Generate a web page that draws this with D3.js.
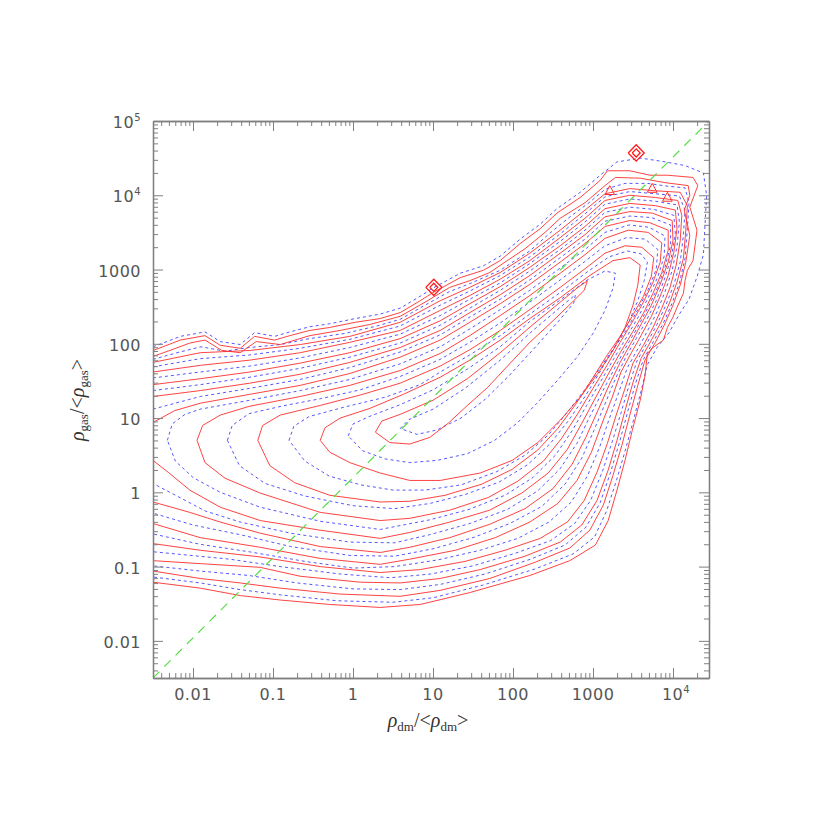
<!DOCTYPE html>
<html><head><meta charset="utf-8">
<script src="https://cdn.jsdelivr.net/npm/d3@7"></script>
<style>body{margin:0;background:#fff}</style>
</head><body>
<svg id="c" width="830" height="830"></svg>
<script>
// ---- data: contour paths as [log10(rho_dm/<rho_dm>), log10(rho_gas/<rho_gas>)] ----
const xDomain = [Math.pow(10,-2.5), Math.pow(10,4.45)];
const yDomain = [Math.pow(10,-2.5), 1e5];
const xTicks = [0.01,0.1,1,10,100,1000,1e4];
const xTickLabels = ["0.01","0.1","1","10","100","1000","10^4"];
const yTicks = [0.01,0.1,1,10,100,1000,1e4,1e5];
const yTickLabels = ["0.01","0.1","1","10","100","1000","10^4","10^5"];
const diagonalLine = [[-2.5,-2.5],[4.45,5]];

const redR1 = [[-2.5,1.91],[-2.35,1.97],[-2.16,2.05],[-1.85,2.11],[-1.66,1.98],[-1.41,1.94],[-1.23,2.10],[-0.98,2.05],[-0.79,2.11],[-0.54,2.18],[-0.29,2.22],[0.03,2.29],[0.34,2.34],[0.59,2.42],[0.84,2.58],[1.0,2.69],[1.34,2.89],[1.63,2.99],[1.84,3.12],[2.09,3.35],[2.34,3.55],[2.55,3.76],[2.84,3.97],[3.09,4.20],[3.18,4.33],[3.46,4.33],[3.71,4.27],[3.93,4.27],[4.25,4.24],[4.31,4.13],[4.21,3.84],[4.30,3.53],[4.25,3.12],[4.18,2.99],[4.15,2.85],[4.13,2.68],[4.05,2.49],[4.00,2.36],[3.93,2.22],[3.88,2.05],[3.75,1.95],[3.68,1.87],[3.65,1.57],[3.59,1.24],[3.49,0.83],[3.40,0.43],[3.30,0.03],[3.19,-0.38],[3.03,-0.71],[2.71,-0.92],[2.21,-1.12],[1.46,-1.35],[0.84,-1.51],[0.34,-1.55],[-0.29,-1.51],[-0.91,-1.45],[-1.41,-1.39],[-1.91,-1.29],[-2.5,-1.21]];
const redR2 = [[-2.5,1.83],[-2.29,1.91],[-2.04,2.01],[-1.85,2.05],[-1.64,1.91],[-1.41,1.88],[-1.21,2.03],[-0.91,1.99],[-0.54,2.11],[-0.16,2.18],[0.21,2.26],[0.59,2.37],[0.90,2.56],[1.21,2.76],[1.46,2.85],[1.71,2.96],[1.90,3.10],[2.15,3.28],[2.40,3.50],[2.59,3.69],[2.90,3.90],[3.15,4.13],[3.28,4.24],[3.59,4.23],[3.90,4.17],[4.19,4.13],[4.21,4.00],[4.14,3.80],[4.21,3.46],[4.16,3.10],[4.09,2.79],[4.00,2.52],[3.89,2.25],[3.78,2.02],[3.65,1.78],[3.56,1.44],[3.46,1.04],[3.36,0.63],[3.25,0.23],[3.13,-0.17],[2.96,-0.51],[2.71,-0.75],[2.28,-0.94],[1.71,-1.16],[1.09,-1.32],[0.59,-1.40],[-0.16,-1.37],[-0.91,-1.29],[-1.41,-1.22],[-1.91,-1.16],[-2.5,-1.06]];
const redR3 = [[-2.5,1.75],[-1.91,1.88],[-1.29,1.91],[-0.66,1.99],[-0.04,2.10],[0.59,2.29],[1.09,2.58],[1.46,2.76],[1.84,2.96],[2.21,3.22],[2.59,3.53],[2.90,3.80],[3.15,4.02],[3.46,4.09],[3.78,4.06],[4.09,4.04],[4.18,3.86],[4.16,3.53],[4.13,3.15],[4.05,2.83],[3.96,2.56],[3.85,2.29],[3.73,2.05],[3.60,1.80],[3.50,1.48],[3.40,1.10],[3.30,0.70],[3.19,0.30],[3.05,-0.11],[2.86,-0.44],[2.59,-0.67],[2.15,-0.86],[1.59,-1.04],[1.09,-1.16],[0.59,-1.22],[0.09,-1.21],[-0.66,-1.13],[-1.16,-1.01],[-1.91,-0.96],[-2.5,-0.92]];
const redR4 = [[-2.5,1.62],[-1.91,1.71],[-1.29,1.78],[-0.66,1.88],[-0.04,2.02],[0.59,2.18],[1.09,2.45],[1.46,2.65],[1.84,2.87],[2.21,3.12],[2.59,3.43],[2.90,3.69],[3.15,3.93],[3.46,4.00],[3.78,3.97],[4.06,3.93],[4.11,3.73],[4.09,3.39],[4.04,3.06],[3.96,2.75],[3.86,2.48],[3.75,2.22],[3.63,1.98],[3.50,1.74],[3.40,1.40],[3.29,1.04],[3.18,0.66],[3.05,0.27],[2.89,-0.11],[2.68,-0.40],[2.34,-0.62],[1.90,-0.78],[1.40,-0.93],[0.84,-1.04],[0.34,-1.08],[-0.41,-1.00],[-1.16,-0.87],[-1.91,-0.78],[-2.5,-0.69]];
const redR5 = [[-2.5,1.45],[-1.91,1.53],[-1.29,1.62],[-0.66,1.74],[-0.04,1.88],[0.59,2.07],[1.09,2.31],[1.46,2.54],[1.84,2.77],[2.21,3.03],[2.59,3.32],[2.90,3.58],[3.15,3.82],[3.46,3.89],[3.78,3.86],[4.03,3.80],[4.05,3.55],[4.01,3.23],[3.94,2.92],[3.84,2.64],[3.73,2.37],[3.60,2.11],[3.48,1.88],[3.35,1.62],[3.24,1.28],[3.11,0.92],[2.98,0.54],[2.80,0.16],[2.56,-0.15],[2.21,-0.40],[1.78,-0.61],[1.28,-0.78],[0.71,-0.90],[0.34,-0.97],[-0.41,-0.89],[-1.16,-0.74],[-1.91,-0.61],[-2.5,-0.42]];
const redR6 = [[-2.5,1.29],[-1.91,1.37],[-1.29,1.47],[-0.66,1.59],[-0.04,1.75],[0.59,1.95],[1.09,2.18],[1.46,2.42],[1.84,2.66],[2.21,2.92],[2.59,3.22],[2.90,3.47],[3.15,3.71],[3.46,3.78],[3.74,3.76],[3.99,3.66],[4.00,3.39],[3.94,3.10],[3.84,2.80],[3.73,2.52],[3.60,2.26],[3.48,2.02],[3.34,1.75],[3.20,1.44],[3.06,1.10],[2.91,0.74],[2.74,0.38],[2.50,0.05],[2.15,-0.22],[1.71,-0.43],[1.21,-0.61],[0.71,-0.74],[0.34,-0.81],[-0.41,-0.73],[-1.16,-0.55],[-1.66,-0.40],[-2.04,-0.27],[-2.5,-0.13]];
const redR7 = [[-2.5,0.94],[-2.23,1.10],[-1.91,1.20],[-1.29,1.32],[-0.66,1.44],[-0.04,1.60],[0.59,1.82],[1.09,2.05],[1.46,2.29],[1.84,2.54],[2.21,2.80],[2.59,3.10],[2.90,3.35],[3.15,3.58],[3.46,3.66],[3.71,3.63],[3.94,3.53],[3.94,3.26],[3.86,2.96],[3.75,2.68],[3.63,2.41],[3.49,2.15],[3.34,1.88],[3.19,1.59],[3.03,1.27],[2.86,0.93],[2.68,0.58],[2.44,0.26],[2.11,-0.01],[1.71,-0.24],[1.21,-0.40],[0.71,-0.54],[0.34,-0.62],[-0.41,-0.51],[-1.16,-0.38],[-1.66,-0.20],[-2.04,0.03],[-2.31,0.27],[-2.5,0.43]];
const redR8 = [[-1.95,0.70],[-1.88,0.90],[-1.66,1.04],[-1.29,1.16],[-0.66,1.29],[-0.04,1.44],[0.59,1.64],[1.09,1.87],[1.46,2.11],[1.84,2.38],[2.21,2.65],[2.59,2.95],[2.90,3.20],[3.15,3.42],[3.44,3.53],[3.69,3.50],[3.86,3.36],[3.84,3.10],[3.75,2.83],[3.63,2.56],[3.49,2.29],[3.34,2.02],[3.18,1.72],[3.00,1.40],[2.81,1.06],[2.61,0.73],[2.38,0.42],[2.06,0.15],[1.69,-0.07],[1.21,-0.24],[0.71,-0.35],[0.34,-0.38],[-0.41,-0.27],[-1.16,-0.01],[-1.60,0.19],[-1.85,0.40],[-1.95,0.70]];
const redR9 = [[-1.19,0.70],[-1.13,0.90],[-0.91,1.04],[-0.41,1.17],[0.09,1.31],[0.59,1.47],[1.09,1.70],[1.46,1.92],[1.84,2.18],[2.21,2.46],[2.59,2.76],[2.90,3.01],[3.15,3.22],[3.40,3.32],[3.61,3.30],[3.76,3.16],[3.73,2.91],[3.63,2.64],[3.49,2.37],[3.34,2.10],[3.16,1.82],[2.98,1.51],[2.78,1.18],[2.56,0.86],[2.31,0.57],[1.99,0.31],[1.61,0.11],[1.15,-0.04],[0.71,-0.12],[0.34,-0.13],[-0.29,-0.04],[-0.73,0.13],[-1.04,0.36],[-1.19,0.70]];
const redR10 = [[-0.41,0.70],[-0.35,0.87],[-0.16,1.00],[0.21,1.13],[0.63,1.32],[1.09,1.55],[1.46,1.78],[1.84,2.05],[2.21,2.34],[2.59,2.62],[2.96,2.92],[3.25,3.12],[3.46,3.16],[3.59,3.06],[3.56,2.79],[3.50,2.52],[3.40,2.22],[3.25,1.91],[3.06,1.60],[2.84,1.28],[2.59,0.97],[2.31,0.67],[1.99,0.43],[1.59,0.26],[1.09,0.16],[0.71,0.16],[0.34,0.26],[-0.04,0.40],[-0.29,0.54],[-0.41,0.70]];
const redR11 = [[0.28,0.81],[0.36,0.96],[0.59,1.05],[1.00,1.24],[1.43,1.53],[1.84,1.88],[2.25,2.26],[2.59,2.56],[2.80,2.75],[2.93,2.85],[2.89,2.72],[2.74,2.56],[2.50,2.31],[2.21,2.02],[1.94,1.71],[1.68,1.41],[1.43,1.17],[1.19,0.93],[0.96,0.74],[0.71,0.65],[0.46,0.67],[0.28,0.81]];
const redDiamondCentres = [[3.54,4.57],[1.01,2.76]];
const redDiamondHalf = [[0.1,0.11],[0.05,0.055]];
const redIslandCentres = [[3.21,4.06],[3.74,4.09],[3.93,3.97]];

const blueB1 = [[-2.5,1.96],[-2.35,2.02],[-2.16,2.10],[-1.85,2.16],[-1.66,2.03],[-1.41,1.99],[-1.23,2.15],[-0.98,2.10],[-0.79,2.16],[-0.54,2.23],[-0.29,2.27],[0.03,2.34],[0.34,2.40],[0.59,2.48],[0.84,2.64],[1.0,2.75],[1.34,2.95],[1.63,3.05],[1.84,3.18],[2.09,3.41],[2.34,3.61],[2.55,3.82],[2.84,4.04],[3.09,4.27],[3.30,4.45],[3.60,4.50],[3.90,4.45],[4.15,4.40],[4.38,4.30],[4.42,4.0],[4.40,3.6],[4.38,3.2],[4.30,2.9],[4.20,2.6],[4.08,2.40],[3.95,2.15],[3.80,1.95],[3.68,1.72],[3.60,1.36],[3.50,0.95],[3.40,0.55],[3.29,0.15],[3.17,-0.25],[3.02,-0.60],[2.75,-0.83],[2.28,-1.03],[1.62,-1.25],[1.00,-1.42],[0.5,-1.48],[-0.2,-1.46],[-0.91,-1.38],[-1.41,-1.31],[-1.91,-1.22],[-2.5,-1.14]];
const blueB2 = [[-2.5,1.79],[-2.2,1.88],[-1.9,1.96],[-1.6,1.90],[-1.3,1.95],[-0.9,1.99],[-0.6,2.06],[-0.1,2.14],[0.3,2.24],[0.59,2.33],[0.9,2.52],[1.2,2.70],[1.46,2.81],[1.84,2.99],[2.21,3.25],[2.45,3.48],[2.70,3.70],[2.95,3.90],[3.15,4.08],[3.40,4.16],[3.68,4.16],[3.95,4.12],[4.15,4.10],[4.20,3.90],[4.18,3.55],[4.15,3.15],[4.08,2.82],[3.99,2.55],[3.88,2.28],[3.76,2.04],[3.63,1.79],[3.53,1.46],[3.43,1.07],[3.33,0.67],[3.22,0.27],[3.09,-0.14],[2.91,-0.47],[2.65,-0.71],[2.22,-0.90],[1.65,-1.10],[1.09,-1.24],[0.59,-1.31],[0.0,-1.30],[-0.7,-1.22],[-1.3,-1.12],[-1.91,-1.06],[-2.5,-0.99]];
const blueB3 = [[-2.5,1.69],[-1.91,1.80],[-1.29,1.85],[-0.66,1.94],[-0.04,2.06],[0.59,2.24],[1.09,2.52],[1.46,2.71],[1.84,2.92],[2.21,3.17],[2.59,3.48],[2.90,3.75],[3.15,3.98],[3.46,4.05],[3.78,4.02],[4.08,3.99],[4.15,3.80],[4.13,3.46],[4.09,3.10],[4.01,2.79],[3.91,2.52],[3.80,2.26],[3.68,2.02],[3.55,1.77],[3.45,1.44],[3.35,1.07],[3.24,0.68],[3.12,0.29],[2.97,-0.11],[2.77,-0.42],[2.47,-0.65],[2.03,-0.82],[1.50,-0.99],[0.97,-1.10],[0.47,-1.15],[-0.16,-1.10],[-0.91,-1.00],[-1.54,-0.90],[-2.5,-0.80]];
const blueB4 = [[-2.5,1.54],[-1.91,1.62],[-1.29,1.70],[-0.66,1.81],[-0.04,1.95],[0.59,2.13],[1.09,2.38],[1.46,2.60],[1.84,2.82],[2.21,3.08],[2.59,3.38],[2.90,3.64],[3.15,3.88],[3.46,3.95],[3.78,3.92],[4.05,3.87],[4.08,3.64],[4.05,3.31],[3.99,2.99],[3.90,2.70],[3.80,2.43],[3.68,2.17],[3.56,1.93],[3.43,1.68],[3.32,1.34],[3.20,0.98],[3.08,0.60],[2.93,0.22],[2.73,-0.13],[2.45,-0.40],[2.06,-0.62],[1.59,-0.78],[1.06,-0.91],[0.52,-1.00],[0.0,-1.02],[-0.6,-0.93],[-1.3,-0.80],[-1.91,-0.70],[-2.5,-0.56]];
const blueB5 = [[-2.5,1.37],[-1.91,1.45],[-1.29,1.55],[-0.66,1.67],[-0.04,1.82],[0.59,2.01],[1.09,2.25],[1.46,2.48],[1.84,2.72],[2.21,2.98],[2.59,3.27],[2.90,3.53],[3.15,3.77],[3.46,3.84],[3.76,3.81],[4.01,3.73],[4.03,3.47],[3.98,3.17],[3.89,2.86],[3.79,2.58],[3.67,2.32],[3.54,2.07],[3.41,1.82],[3.28,1.53],[3.15,1.19],[3.01,0.83],[2.86,0.46],[2.65,0.11],[2.36,-0.19],[1.96,-0.42],[1.50,-0.61],[1.0,-0.76],[0.52,-0.86],[-0.04,-0.85],[-0.78,-0.73],[-1.41,-0.57],[-2.0,-0.44],[-2.5,-0.28]];
const blueB6 = [[-2.5,1.12],[-1.91,1.29],[-1.29,1.40],[-0.66,1.52],[-0.04,1.68],[0.59,1.89],[1.09,2.12],[1.46,2.36],[1.84,2.60],[2.21,2.86],[2.59,3.16],[2.90,3.41],[3.15,3.65],[3.46,3.72],[3.73,3.70],[3.97,3.60],[3.97,3.33],[3.90,3.03],[3.80,2.74],[3.68,2.47],[3.55,2.21],[3.41,1.95],[3.27,1.67],[3.12,1.36],[2.96,1.02],[2.80,0.66],[2.59,0.32],[2.31,0.02],[1.93,-0.23],[1.46,-0.42],[0.96,-0.57],[0.52,-0.68],[-0.04,-0.67],[-0.78,-0.55],[-1.41,-0.40],[-1.85,-0.25],[-2.2,-0.05],[-2.5,0.12]];
const blueB7 = [[-2.32,0.70],[-2.26,0.92],[-2.1,1.05],[-1.91,1.12],[-1.29,1.24],[-0.66,1.37],[-0.04,1.52],[0.59,1.73],[1.09,1.96],[1.46,2.20],[1.84,2.46],[2.21,2.72],[2.59,3.02],[2.90,3.27],[3.15,3.50],[3.45,3.60],[3.70,3.57],[3.90,3.45],[3.89,3.18],[3.81,2.90],[3.69,2.62],[3.56,2.35],[3.42,2.09],[3.26,1.80],[3.10,1.50],[2.92,1.17],[2.74,0.83],[2.53,0.50],[2.25,0.20],[1.90,-0.04],[1.45,-0.23],[0.96,-0.37],[0.34,-0.50],[-0.41,-0.39],[-1.16,-0.20],[-1.66,0.0],[-2.0,0.2],[-2.22,0.42],[-2.32,0.70]];
const blueB8 = [[-1.57,0.70],[-1.51,0.90],[-1.3,1.06],[-0.85,1.17],[-0.41,1.26],[0.09,1.38],[0.59,1.56],[1.09,1.79],[1.46,2.02],[1.84,2.28],[2.21,2.56],[2.59,2.86],[2.90,3.11],[3.15,3.32],[3.42,3.43],[3.65,3.41],[3.81,3.27],[3.79,3.0],[3.69,2.73],[3.56,2.46],[3.42,2.19],[3.25,1.92],[3.08,1.61],[2.90,1.29],[2.69,0.96],[2.46,0.65],[2.18,0.37],[1.83,0.14],[1.40,-0.03],[0.96,-0.15],[0.52,-0.22],[0.0,-0.18],[-0.6,-0.05],[-1.1,0.12],[-1.42,0.36],[-1.57,0.70]];
const blueB9 = [[-0.8,0.70],[-0.74,0.89],[-0.55,1.02],[-0.1,1.15],[0.4,1.28],[0.84,1.45],[1.09,1.62],[1.46,1.85],[1.84,2.11],[2.21,2.40],[2.59,2.69],[2.93,2.97],[3.20,3.17],[3.43,3.25],[3.60,3.21],[3.68,3.10],[3.64,2.85],[3.56,2.58],[3.45,2.30],[3.30,2.0],[3.11,1.71],[2.91,1.40],[2.68,1.08],[2.44,0.77],[2.15,0.50],[1.80,0.28],[1.35,0.10],[0.90,0.03],[0.5,0.03],[0.1,0.10],[-0.3,0.22],[-0.6,0.42],[-0.8,0.70]];
const blueB10 = [[-0.06,0.76],[0.0,0.92],[0.2,1.02],[0.59,1.18],[1.0,1.38],[1.43,1.66],[1.84,1.96],[2.21,2.30],[2.59,2.59],[2.93,2.86],[3.15,2.98],[3.28,2.95],[3.25,2.75],[3.15,2.45],[3.0,2.14],[2.80,1.82],[2.55,1.50],[2.30,1.20],[2.05,0.93],[1.77,0.70],[1.43,0.52],[1.05,0.43],[0.71,0.40],[0.4,0.45],[0.12,0.56],[-0.06,0.76]];
const blueB11 = [[0.59,0.86],[0.7,0.98],[1.0,1.12],[1.4,1.40],[1.84,1.78],[2.25,2.18],[2.6,2.50],[2.78,2.66],[2.76,2.55],[2.55,2.28],[2.25,1.92],[1.95,1.57],[1.65,1.25],[1.35,1.00],[1.05,0.84],[0.8,0.78],[0.59,0.86]];

const redContours = [redR1,redR2,redR3,redR4,redR5,redR6,redR7,redR8,redR9,redR10,redR11];
const blueContours = [blueB1,blueB2,blueB3,blueB4,blueB5,blueB6,blueB7,blueB8,blueB9,blueB10,blueB11];

// ---- drawing ----
const M = {l:153, r:709, t:121, b:678};
const svg = d3.select("#c");
const x = d3.scaleLog().domain(xDomain).range([M.l, M.r]);
const y = d3.scaleLog().domain(yDomain).range([M.b, M.t]);
const toVal = p => [Math.pow(10,p[0]), Math.pow(10,p[1])];
const line = d3.line().x(d => x(d[0])).y(d => y(d[1]));

svg.append("clipPath").attr("id","clip").append("rect")
  .attr("x",M.l).attr("y",M.t).attr("width",M.r-M.l).attr("height",M.b-M.t);
const g = svg.append("g").attr("clip-path","url(#clip)");

g.selectAll("path.blue").data(blueContours).join("path")
  .attr("class","blue").attr("d", c => line(c.map(toVal)))
  .attr("fill","none").attr("stroke","#3a3aff").attr("stroke-width",1)
  .attr("stroke-dasharray","3,3").attr("stroke-opacity",0.85);

g.selectAll("path.red").data(redContours).join("path")
  .attr("class","red").attr("d", c => line(c.map(toVal)))
  .attr("fill","none").attr("stroke","#ff2f2f").attr("stroke-width",1).attr("stroke-opacity",0.9);

redDiamondCentres.forEach(c => {
  redDiamondHalf.forEach(h => {
    const pts = [[c[0]-h[0],c[1]],[c[0],c[1]+h[1]],[c[0]+h[0],c[1]],[c[0],c[1]-h[1]],[c[0]-h[0],c[1]]];
    g.append("path").attr("d", line(pts.map(toVal))).attr("fill","none")
      .attr("stroke","#ff1a1a").attr("stroke-width",1.3);
  });
});
redIslandCentres.forEach(c => {
  const pts = [[c[0]-0.06,c[1]-0.05],[c[0]+0.06,c[1]-0.05],[c[0],c[1]+0.07],[c[0]-0.06,c[1]-0.05]];
  g.append("path").attr("d", line(pts.map(toVal))).attr("fill","none")
    .attr("stroke","#ff2f2f").attr("stroke-width",1);
});

g.append("path").attr("d", line(diagonalLine.map(toVal)))
  .attr("fill","none").attr("stroke","#55dd44").attr("stroke-width",1.2).attr("stroke-dasharray","9,7");

// axes
const axisColor = "#808080";
function minorTicks(dom){
  const out=[]; const lo=Math.floor(Math.log10(dom[0])), hi=Math.ceil(Math.log10(dom[1]));
  for(let d=lo; d<=hi; d++) for(let k=2;k<=9;k++){const v=k*Math.pow(10,d); if(v>dom[0]&&v<dom[1]) out.push(v);}
  return out;
}
function styleAxis(sel){
  sel.select(".domain").attr("stroke",axisColor).attr("stroke-width",1.3);
  sel.selectAll(".tick line").attr("stroke",axisColor).attr("stroke-width",1);
}
const xMinor = minorTicks(xDomain), yMinor = minorTicks(yDomain);
[[xTicks,-10],[xMinor,-5]].forEach(([tv,sz])=>{
  svg.append("g").attr("transform",`translate(0,${M.b})`).call(d3.axisBottom(x).tickValues(tv).tickSize(sz).tickFormat("").tickSizeOuter(0)).call(styleAxis);
  svg.append("g").attr("transform",`translate(0,${M.t})`).call(d3.axisTop(x).tickValues(tv).tickSize(sz).tickFormat("").tickSizeOuter(0)).call(styleAxis);
});
[[yTicks,-10],[yMinor,-5]].forEach(([tv,sz])=>{
  svg.append("g").attr("transform",`translate(${M.l},0)`).call(d3.axisLeft(y).tickValues(tv).tickSize(sz).tickFormat("").tickSizeOuter(0)).call(styleAxis);
  svg.append("g").attr("transform",`translate(${M.r},0)`).call(d3.axisRight(y).tickValues(tv).tickSize(sz).tickFormat("").tickSizeOuter(0)).call(styleAxis);
});

const font = "DejaVu Sans, sans-serif";
function writeLabel(sel, lab){
  if(lab.startsWith("10^")){
    sel.append("tspan").text("10");
    sel.append("tspan").text(lab.slice(3)).attr("font-size",10).attr("dy",-7);
  } else sel.text(lab);
}
xTicks.forEach((v,i)=>{
  const t = svg.append("text").attr("x",x(v)).attr("y",700).attr("text-anchor","middle")
    .attr("font-family",font).attr("font-size",16).attr("fill","#555").attr("letter-spacing",0.5);
  writeLabel(t, xTickLabels[i]);
  if(xTickLabels[i].startsWith("10^")) t.attr("x",x(v)+3);
});
yTicks.forEach((v,i)=>{
  const t = svg.append("text").attr("x",141).attr("y",y(v)+7).attr("text-anchor","end")
    .attr("font-family",font).attr("font-size",16).attr("fill","#555").attr("letter-spacing",0.5);
  writeLabel(t, yTickLabels[i]);
});

// axis titles
const tfont = "Liberation Serif, serif";
function title(sel, sub){
  sel.append("tspan").text("ρ").attr("font-style","italic");
  sel.append("tspan").text(sub).attr("font-size",13).attr("dy",4);
  sel.append("tspan").text("/<").attr("dy",-4);
  sel.append("tspan").text("ρ").attr("font-style","italic");
  sel.append("tspan").text(sub).attr("font-size",13).attr("dy",4);
  sel.append("tspan").text(">").attr("dy",-4);
}
const xt = svg.append("text").attr("x",428).attr("y",727).attr("text-anchor","middle")
  .attr("font-family",tfont).attr("font-size",20).attr("fill","#333");
title(xt,"dm");
const yt = svg.append("text").attr("transform",`translate(84,400) rotate(-90)`).attr("text-anchor","middle")
  .attr("font-family",tfont).attr("font-size",20).attr("fill","#333");
title(yt,"gas");
</script>
</body></html>
